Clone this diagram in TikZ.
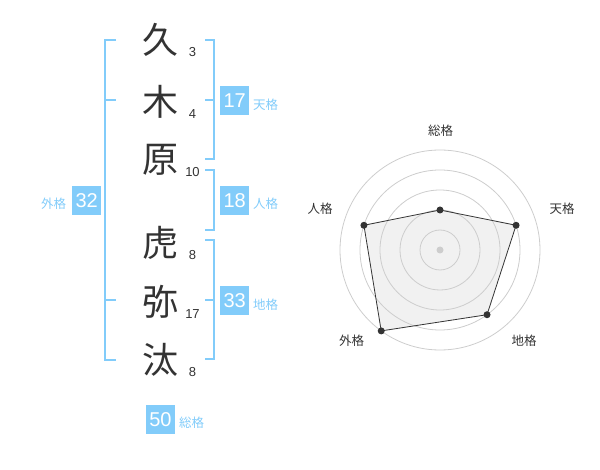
\documentclass[tikz,border=0pt]{standalone}
\usepackage{fontspec}
\setmainfont{Liberation Sans}
\newfontfamily\jpfont{Noto Sans CJK JP}

\definecolor{kakublue}{RGB}{130,204,250}
\definecolor{inkgray}{RGB}{51,51,51}
\definecolor{ringgray}{RGB}{205,205,205}
\definecolor{areagray}{RGB}{241,241,241}

\tikzset{
    kanji/.style={text=inkgray, inner sep=0pt, font=\jpfont\fontsize{36}{36}\selectfont},
    strokes/.style={text=inkgray, inner sep=0pt, font=\fontsize{13}{13}\selectfont},
    bracket/.style={draw=kakublue, line width=2pt},
    kakubox/.style={fill=kakublue, text=white, minimum size=29pt, inner sep=0pt, font=\fontsize{20}{20}\selectfont},
    kakulabel/.style={text=kakublue, inner sep=0pt, font=\jpfont\fontsize{12.5}{12.5}\selectfont},
    radarlabel/.style={text=inkgray, inner sep=0pt, font=\jpfont\fontsize{12.5}{12.5}\selectfont},
}

\begin{document}
\begin{tikzpicture}[x=1pt, y=-1pt]
    \useasboundingbox (0,0) rectangle (600,470);

    % Name characters and stroke counts
    \foreach \ch/\y/\n [count=\i] in {久/40/3, 木/101.5/4, 原/160/10, 虎/243/8, 弥/301.5/17, 汰/360/8} {
        \node[kanji] (char\i) at (160,\y) {\ch};
        \node[strokes] (stroke\i) at (192.5,\y+12.5) {\n};
    }

    % Brackets
    \draw[bracket] (116,40) -- (105,40) -- (105,360) -- (116,360); % outer
    \draw[bracket] (105,100) -- (116,100);
    \draw[bracket] (105,300) -- (116,300);
    \draw[bracket] (205,40) -- (214.3,40) -- (214.3,159.5) -- (205,159.5); % heaven
    \draw[bracket] (205,100) -- (214.3,100);
    \draw[bracket] (205,170.5) -- (214.3,170.5) -- (214.3,230) -- (205,230); % person
    \draw[bracket] (205,240) -- (214.3,240) -- (214.3,359.5) -- (205,359.5); % earth
    \draw[bracket] (205,300) -- (214.3,300);

    % Totals
    \node[kakubox] (tenbox) at (234.7,100.3) {17};
    \node[kakulabel] (tenlabel) at (265.7,104.5) {天格};
    \node[kakubox] (jinbox) at (234.7,200.3) {18};
    \node[kakulabel] (jinlabel) at (265.7,204) {人格};
    \node[kakubox] (chibox) at (234.7,300.3) {33};
    \node[kakulabel] (chilabel) at (265.7,304.5) {地格};
    \node[kakubox] (gaibox) at (86.7,200.3) {32};
    \node[kakulabel] (gailabel) at (53.7,204) {外格};
    \node[kakubox] (soubox) at (160.5,419.5) {50};
    \node[kakulabel] (soulabel) at (191.7,422.5) {総格};

    % Radar chart
    \begin{scope}[shift={(440,250)}]
        \coordinate (sou) at (-90:40);
        \coordinate (ten) at (-18:80);
        \coordinate (chi) at (54:80);
        \coordinate (gai) at (126:100);
        \coordinate (jin) at (198:80);
        \fill[areagray] (sou) -- (ten) -- (chi) -- (gai) -- (jin) -- cycle;
        \foreach \r in {20,40,60,80,100}
            \draw[ringgray, line width=0.8pt] (0,0) circle (\r);
        \fill[ringgray] (0,0) circle (3.5);
        \draw[inkgray, line width=0.8pt] (sou) -- (ten) -- (chi) -- (gai) -- (jin) -- cycle;
        \foreach \p in {sou,ten,chi,gai,jin}
            \fill[inkgray] (\p) circle (3.5);
    \end{scope}
    \node[radarlabel] (rsou) at (440.7,130.7) {総格};
    \node[radarlabel] (rten) at (562,209) {天格};
    \node[radarlabel] (rjin) at (320,209) {人格};
    \node[radarlabel] (rgai) at (351.7,341) {外格};
    \node[radarlabel] (rchi) at (524,341) {地格};
\end{tikzpicture}
\end{document}
